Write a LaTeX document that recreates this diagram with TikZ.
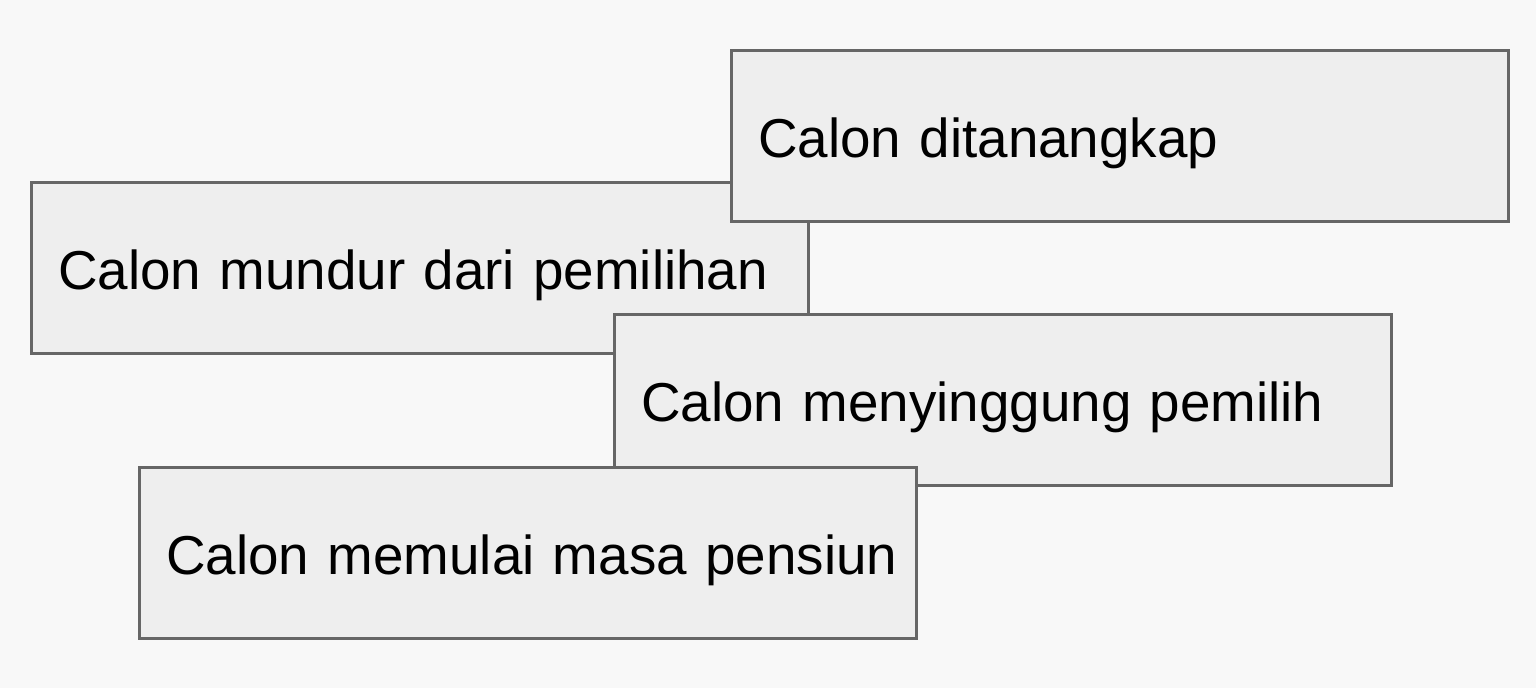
\documentclass[tikz,border=0pt]{standalone}
\usepackage{fontspec}
\setmainfont{Liberation Sans}
\definecolor{bg}{HTML}{F8F8F8}
\definecolor{boxfill}{HTML}{EEEEEE}
\definecolor{boxline}{HTML}{666666}
\tikzset{
  card/.style={draw=boxline, fill=boxfill, line width=2.6bp, anchor=north west,
    minimum width=777bp, minimum height=171bp, inner xsep=27bp, inner ysep=0pt,
    text width=723bp, align=left, text height=43bp, text depth=0pt,
    font=\fontsize{54.8bp}{60bp}\selectfont, text=black}
}
\begin{document}
\begin{tikzpicture}[x=1bp,y=-1bp]
\fill[bg] (0,0) rectangle (1536,688);
\useasboundingbox (0,0) rectangle (1536,688);
\node[card] (mundur) at (30,181) {\mbox{Calon mundur dari pemilihan}};
\node[card] (tangkap) at (730,49) {\mbox{Calon ditanangkap}};
\node[card, minimum width=776bp] (singgung) at (613,313) {\mbox{Calon menyinggung pemilih}};
\node[card] (pensiun) at (138,466) {\mbox{Calon memulai masa pensiun}};
\end{tikzpicture}
\end{document}
